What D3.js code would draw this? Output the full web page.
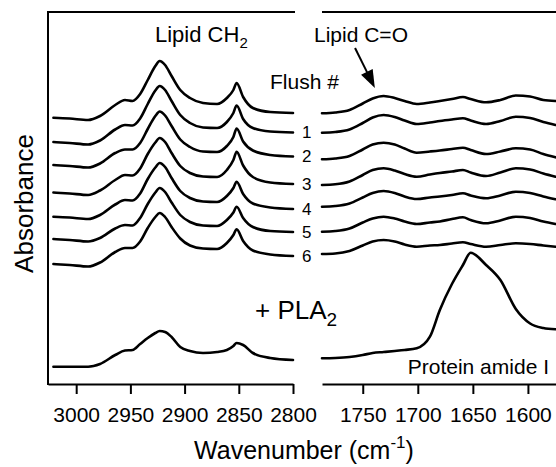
<!DOCTYPE html>
<html>
<head>
<meta charset="utf-8">
<script src="https://cdn.jsdelivr.net/npm/d3@7"></script>
<style>
  html, body { margin: 0; padding: 0; background: #fff; }
  svg { display: block; }
  text { font-family: "Liberation Sans", Arial, Helvetica, sans-serif; fill: #000; }
</style>
</head>
<body>
<script>
// ---------------- DATA ----------------
// Lipid CH2 region (cm-1)
const leftWavenumbers = [3021, 3006, 2989, 2978, 2964, 2955, 2948, 2941, 2934, 2927, 2923, 2918, 2912, 2904, 2895, 2883, 2870, 2861, 2855, 2852, 2846, 2837, 2821, 2800];
// Carbonyl / amide region (cm-1)
const rightWavenumbers = [1787, 1775, 1762, 1750, 1741, 1731, 1721, 1712, 1701, 1689, 1680, 1669, 1659, 1652, 1638, 1625, 1611, 1598, 1586, 1575];

const leftTicks = [3000, 2950, 2900, 2850, 2800];
const rightTicks = [1750, 1700, 1650, 1600];

const traceLabels = ["", "1", "2", "3", "4", "5", "6", "PLA2"];

// Absorbance (offset, arbitrary units) – CH2 region
const chTop = [2.663, 2.655, 2.64, 2.68, 2.79, 2.84, 2.83, 2.90, 3.04, 3.18, 3.23, 3.19, 3.08, 2.94, 2.86, 2.81, 2.80, 2.86, 2.94, 3.01, 2.87, 2.76, 2.72, 2.71];
const ch1 = [2.42, 2.41, 2.395, 2.435, 2.545, 2.59, 2.585, 2.655, 2.80, 2.935, 2.98, 2.94, 2.83, 2.69, 2.61, 2.565, 2.56, 2.62, 2.71, 2.785, 2.65, 2.56, 2.525, 2.515];
const ch2 = [2.19, 2.18, 2.165, 2.205, 2.31, 2.345, 2.345, 2.41, 2.55, 2.68, 2.725, 2.685, 2.58, 2.445, 2.37, 2.325, 2.32, 2.38, 2.47, 2.555, 2.425, 2.335, 2.29, 2.275];
const ch3 = [1.915, 1.905, 1.89, 1.935, 2.04, 2.09, 2.085, 2.155, 2.30, 2.415, 2.46, 2.42, 2.31, 2.18, 2.11, 2.075, 2.07, 2.14, 2.24, 2.323, 2.185, 2.07, 2.015, 2.00];
const ch4 = [1.673, 1.665, 1.65, 1.69, 1.795, 1.84, 1.835, 1.905, 2.05, 2.165, 2.21, 2.17, 2.06, 1.93, 1.86, 1.825, 1.82, 1.88, 1.96, 2.023, 1.90, 1.805, 1.765, 1.75];
const ch5 = [1.45, 1.44, 1.425, 1.46, 1.555, 1.59, 1.585, 1.66, 1.80, 1.915, 1.96, 1.92, 1.815, 1.69, 1.62, 1.585, 1.58, 1.64, 1.715, 1.773, 1.66, 1.57, 1.53, 1.52];
const ch6 = [1.20, 1.19, 1.175, 1.215, 1.32, 1.36, 1.36, 1.425, 1.56, 1.67, 1.71, 1.67, 1.57, 1.455, 1.385, 1.355, 1.35, 1.41, 1.49, 1.547, 1.43, 1.335, 1.295, 1.28];
const chPla = [0.173, 0.173, 0.173, 0.20, 0.29, 0.335, 0.34, 0.40, 0.46, 0.51, 0.53, 0.52, 0.47, 0.37, 0.33, 0.31, 0.32, 0.34, 0.38, 0.41, 0.39, 0.31, 0.26, 0.24];

// Absorbance – C=O / amide I region
const coTop = [2.707, 2.715, 2.74, 2.805, 2.855, 2.88, 2.86, 2.83, 2.80, 2.815, 2.83, 2.85, 2.87, 2.85, 2.817, 2.84, 2.885, 2.875, 2.84, 2.83];
const co1 = [2.513, 2.52, 2.545, 2.61, 2.665, 2.69, 2.67, 2.635, 2.60, 2.615, 2.63, 2.645, 2.657, 2.635, 2.60, 2.63, 2.673, 2.66, 2.62, 2.59];
const co2 = [2.247, 2.255, 2.28, 2.345, 2.395, 2.413, 2.395, 2.355, 2.313, 2.325, 2.335, 2.35, 2.363, 2.34, 2.30, 2.325, 2.357, 2.345, 2.30, 2.267];
const co3 = [1.99, 1.997, 2.025, 2.09, 2.14, 2.157, 2.135, 2.10, 2.073, 2.095, 2.11, 2.125, 2.14, 2.115, 2.08, 2.115, 2.157, 2.145, 2.105, 2.073];
const co4 = [1.773, 1.78, 1.805, 1.865, 1.91, 1.93, 1.91, 1.875, 1.85, 1.865, 1.875, 1.89, 1.907, 1.885, 1.857, 1.885, 1.923, 1.91, 1.875, 1.847];
const co5 = [1.523, 1.53, 1.555, 1.615, 1.655, 1.673, 1.655, 1.625, 1.60, 1.615, 1.625, 1.65, 1.667, 1.64, 1.607, 1.635, 1.673, 1.66, 1.625, 1.60];
const co6 = [1.30, 1.305, 1.33, 1.385, 1.425, 1.44, 1.425, 1.395, 1.373, 1.385, 1.39, 1.405, 1.417, 1.40, 1.373, 1.39, 1.407, 1.40, 1.385, 1.373];
const coPla = [0.257, 0.26, 0.27, 0.29, 0.31, 0.32, 0.33, 0.34, 0.357, 0.473, 0.74, 1.00, 1.19, 1.313, 1.19, 1.04, 0.75, 0.605, 0.56, 0.547];

const leftSeries = [chTop, ch1, ch2, ch3, ch4, ch5, ch6, chPla];
const rightSeries = [coTop, co1, co2, co3, co4, co5, co6, coPla];

// ---------------- CHART ----------------
const W = 556, H = 467;
const svg = d3.select("body").append("svg").attr("width", W).attr("height", H);

const xL = d3.scaleLinear().domain([3026, 2800]).range([48, 293]);
const xR = d3.scaleLinear().domain([1787, 1574.5]).range([322, 556]);
const y = d3.scaleLinear().domain([0, 3.72]).range([384, 12]);

const axisStroke = 2;

// frame lines
svg.append("line").attr("x1", xL.range()[0]).attr("x2", 295).attr("y1", y.range()[1]).attr("y2", y.range()[1])
  .attr("stroke", "#000").attr("stroke-width", axisStroke);
svg.append("line").attr("x1", xR.range()[0]).attr("x2", xR.range()[1]).attr("y1", y.range()[1]).attr("y2", y.range()[1])
  .attr("stroke", "#000").attr("stroke-width", axisStroke);
svg.append("line").attr("x1", xL.range()[0]).attr("x2", xL.range()[0]).attr("y1", y.range()[1] - 1).attr("y2", y.range()[0] + 1)
  .attr("stroke", "#000").attr("stroke-width", axisStroke);

function styleAxis(g) {
  g.select(".domain").attr("stroke-width", axisStroke).attr("stroke", "#000");
  g.selectAll(".tick line").attr("stroke-width", axisStroke).attr("stroke", "#000");
  g.selectAll(".tick text").attr("font-size", 21).attr("font-family", "Liberation Sans, Arial, sans-serif").attr("fill", "#000");
}

const axL = svg.append("g").attr("transform", `translate(0,${y.range()[0]})`)
  .call(d3.axisBottom(xL).tickValues(leftTicks).tickFormat(d3.format("d")).tickSize(10).tickSizeOuter(0).tickPadding(13));
styleAxis(axL);
const axR = svg.append("g").attr("transform", `translate(0,${y.range()[0]})`)
  .call(d3.axisBottom(xR).tickValues(rightTicks).tickFormat(d3.format("d")).tickSize(10).tickSizeOuter(0).tickPadding(13));
styleAxis(axR);

// traces
const lineL = d3.line().x((d, i) => xL(leftWavenumbers[i])).y(d => y(d)).curve(d3.curveMonotoneX);
const lineR = d3.line().x((d, i) => xR(rightWavenumbers[i])).y(d => y(d)).curve(d3.curveMonotoneX);

svg.append("g").selectAll("path").data(leftSeries).join("path")
  .attr("d", lineL).attr("fill", "none").attr("stroke", "#000").attr("stroke-width", 2.6)
  .attr("stroke-linejoin", "round").attr("stroke-linecap", "round");
svg.append("g").selectAll("path").data(rightSeries).join("path")
  .attr("d", lineR).attr("fill", "none").attr("stroke", "#000").attr("stroke-width", 2.6)
  .attr("stroke-linejoin", "round").attr("stroke-linecap", "round");

// flush numbers
svg.append("g").selectAll("text").data(leftSeries.slice(1, 7)).join("text")
  .attr("x", 302).attr("y", d => y(d[d.length - 1]) + 5.5)
  .attr("font-size", 17)
  .text((d, i) => traceLabels[i + 1]);

// annotations
const t1 = svg.append("text").attr("x", 155).attr("y", 41.7).attr("font-size", 22);
t1.append("tspan").text("Lipid CH");
t1.append("tspan").attr("font-size", 15).attr("dy", 6.5).text("2");

svg.append("text").attr("x", 314).attr("y", 42).attr("font-size", 21).text("Lipid C=O");

svg.append("text").attr("x", 270).attr("y", 89.3).attr("font-size", 21).text("Flush #");

const tp = svg.append("text").attr("x", 255).attr("y", 319.3).attr("font-size", 26);
tp.append("tspan").text("+ PLA");
tp.append("tspan").attr("font-size", 19).attr("dy", 7).text("2");

svg.append("text").attr("x", 549).attr("y", 374).attr("font-size", 21).attr("text-anchor", "end").text("Protein amide I");

// arrow to C=O band
const tip = [xR(1739), y(2.96)];
const start = [xR(1757), y(3.36)];
const dx = tip[0] - start[0], dy = tip[1] - start[1];
const len = Math.hypot(dx, dy), ux = dx / len, uy = dy / len;
const headL = 18, headW = 6.5;
const base = [tip[0] - ux * headL, tip[1] - uy * headL];
svg.append("line").attr("x1", start[0]).attr("y1", start[1]).attr("x2", base[0] + ux * 2).attr("y2", base[1] + uy * 2)
  .attr("stroke", "#000").attr("stroke-width", 2);
svg.append("path").attr("d", d3.line()([tip, [base[0] - uy * headW, base[1] + ux * headW], [base[0] + uy * headW, base[1] - ux * headW]]) + "Z")
  .attr("fill", "#000");

// axis titles
const xt = svg.append("text").attr("x", 304).attr("y", 459).attr("font-size", 25).attr("text-anchor", "middle");
xt.append("tspan").text("Wavenumber (cm");
xt.append("tspan").attr("font-size", 17).attr("dy", -11).text("-1");
xt.append("tspan").attr("dy", 11).text(")");

svg.append("text").attr("transform", "translate(33,203.5) rotate(-90)")
  .attr("font-size", 26).attr("text-anchor", "middle").text("Absorbance");
</script>
</body>
</html>
